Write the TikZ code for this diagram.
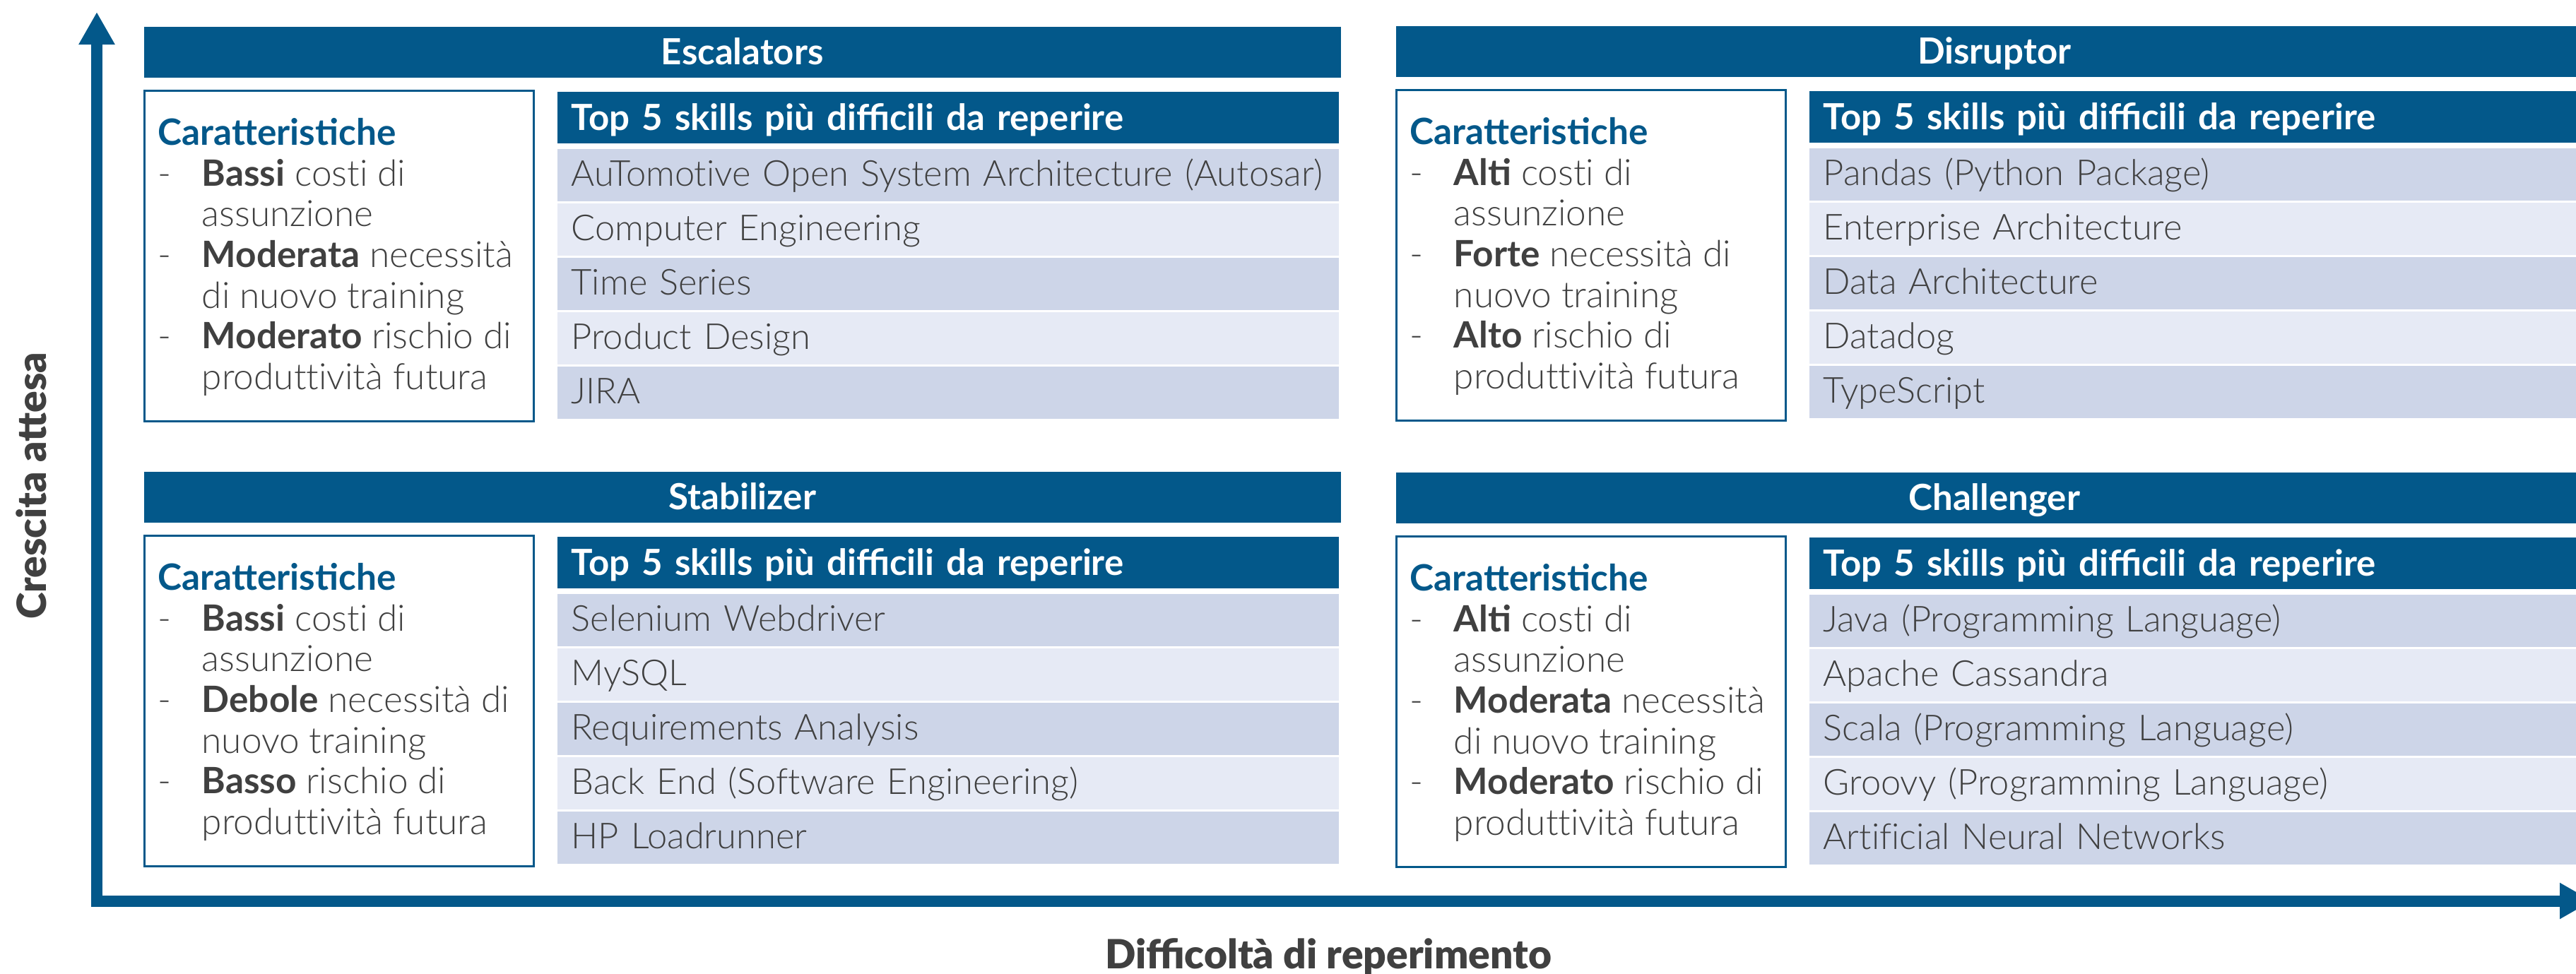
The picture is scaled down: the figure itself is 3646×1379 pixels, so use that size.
\documentclass[tikz,border=0pt]{standalone}
\usepackage{fontspec}
\setmainfont{Lato}[UprightFont=* Light, BoldFont=* Bold, UprightFeatures={Ligatures=NoCommon}]
\newfontfamily\axisfont{Lato}[UprightFont=* Black]
\usepackage{xcolor}
\usetikzlibrary{arrows.meta}

\definecolor{quadblue}{RGB}{3,88,138}
\definecolor{rowdark}{RGB}{205,213,232}
\definecolor{rowlight}{RGB}{230,234,245}
\definecolor{textgray}{RGB}{64,64,64}

\begin{document}
\begin{tikzpicture}[x=0.01cm, y=-0.01cm,
    quadhead/.style={fill=quadblue, text=white, anchor=north west, minimum width=16.93cm, minimum height=0.72cm, inner sep=0pt, font=\fontsize{14.5}{17}\selectfont\bfseries, text height=0.42cm, text depth=0.06cm},
    topbar/.style={fill=quadblue, text=white, anchor=north west, text width=10.66cm, inner xsep=0.2cm, inner ysep=0pt, minimum height=0.73cm, font=\fontsize{14.5}{17}\selectfont\bfseries, text height=0.42cm, text depth=0.05cm},
    skillrow/.style={anchor=north west, text width=10.66cm, inner xsep=0.2cm, inner ysep=0pt, minimum height=0.74cm, text=textgray, font=\fontsize{14.4}{16}\selectfont, text height=0.4cm, text depth=0.08cm},
    charbox/.style={draw=quadblue, line width=0.85pt, fill=white, anchor=north west, minimum width=5.51cm, minimum height=4.68cm, inner sep=0pt},
    chartext/.style={anchor=north west, inner sep=0pt, align=left, text=textgray, font=\fontsize{14.6}{16.36}\selectfont},
    axislabel/.style={text=textgray, inner sep=0pt, font=\axisfont\fontsize{16.2}{20}\selectfont},
    axis/.style={draw=quadblue, line width=0.16cm, {Triangle[length=0.46cm,width=0.48cm]}-{Triangle[length=0.46cm,width=0.48cm]}}
  ]
  \useasboundingbox (0,0) rectangle (3646,1379);
  \clip (0,0) rectangle (3646,1379);

  % axes
  \coordinate (ytip) at (137,17);
  \coordinate (origin) at (137,1275.5);
  \coordinate (xtip) at (3669,1275.5);
  \draw[axis] (ytip) -- (origin) -- (xtip);
  \node[axislabel, rotate=90, anchor=base] (ylabel) at (65,688) {Crescita attesa};
  \node[axislabel, anchor=base] (xlabel) at (1880,1371) {Difficoltà di reperimento};

  % Escalators
  \node[quadhead] (esc-head) at (203,37) {Escalators};
  \node[charbox] (esc-char) at (203,127) {};
  \node[chartext] (esc-text) at (223,167) {{\color{quadblue}\bfseries Caratteristiche}\\
    \makebox[0.62cm][l]{-}\textbf{Bassi} costi di\\
    \hspace*{0.62cm}assunzione\\
    \makebox[0.62cm][l]{-}\textbf{Moderata} necessità\\
    \hspace*{0.62cm}di nuovo training\\
    \makebox[0.62cm][l]{-}\textbf{Moderato} rischio di\\
    \hspace*{0.62cm}produttività futura};
  \node[topbar] (esc-top) at (788,129) {Top 5 skills più difficili da reperire};
  \foreach \s [count=\i] in {{AuTomotive Open System Architecture (Autosar)}, {Computer Engineering}, {Time Series}, {Product Design}, {JIRA}} {
    \ifodd\i\def\rc{rowdark}\else\def\rc{rowlight}\fi
    \node[skillrow, fill=\rc] (esc-r\i) at (788,{210+77*(\i-1)}) {\s};
  }

  % Disruptor
  \node[quadhead] (dis-head) at (1975,36) {Disruptor};
  \node[charbox] (dis-char) at (1975,126) {};
  \node[chartext] (dis-text) at (1995,166) {{\color{quadblue}\bfseries Caratteristiche}\\
    \makebox[0.62cm][l]{-}\textbf{Alti} costi di\\
    \hspace*{0.62cm}assunzione\\
    \makebox[0.62cm][l]{-}\textbf{Forte} necessità di\\
    \hspace*{0.62cm}nuovo training\\
    \makebox[0.62cm][l]{-}\textbf{Alto} rischio di\\
    \hspace*{0.62cm}produttività futura};
  \node[topbar] (dis-top) at (2560,128) {Top 5 skills più difficili da reperire};
  \foreach \s [count=\i] in {{Pandas (Python Package)}, {Enterprise Architecture}, {Data Architecture}, {Datadog}, {TypeScript}} {
    \ifodd\i\def\rc{rowdark}\else\def\rc{rowlight}\fi
    \node[skillrow, fill=\rc] (dis-r\i) at (2560,{209+77*(\i-1)}) {\s};
  }

  % Stabilizer
  \node[quadhead] (sta-head) at (203,667) {Stabilizer};
  \node[charbox] (sta-char) at (203,757) {};
  \node[chartext] (sta-text) at (223,797) {{\color{quadblue}\bfseries Caratteristiche}\\
    \makebox[0.62cm][l]{-}\textbf{Bassi} costi di\\
    \hspace*{0.62cm}assunzione\\
    \makebox[0.62cm][l]{-}\textbf{Debole} necessità di\\
    \hspace*{0.62cm}nuovo training\\
    \makebox[0.62cm][l]{-}\textbf{Basso} rischio di\\
    \hspace*{0.62cm}produttività futura};
  \node[topbar] (sta-top) at (788,759) {Top 5 skills più difficili da reperire};
  \foreach \s [count=\i] in {{Selenium Webdriver}, {MySQL}, {Requirements Analysis}, {Back End (Software Engineering)}, {HP Loadrunner}} {
    \ifodd\i\def\rc{rowdark}\else\def\rc{rowlight}\fi
    \node[skillrow, fill=\rc] (sta-r\i) at (788,{840+77*(\i-1)}) {\s};
  }

  % Challenger
  \node[quadhead] (cha-head) at (1975,668) {Challenger};
  \node[charbox] (cha-char) at (1975,758) {};
  \node[chartext] (cha-text) at (1995,798) {{\color{quadblue}\bfseries Caratteristiche}\\
    \makebox[0.62cm][l]{-}\textbf{Alti} costi di\\
    \hspace*{0.62cm}assunzione\\
    \makebox[0.62cm][l]{-}\textbf{Moderata} necessità\\
    \hspace*{0.62cm}di nuovo training\\
    \makebox[0.62cm][l]{-}\textbf{Moderato} rischio di\\
    \hspace*{0.62cm}produttività futura};
  \node[topbar] (cha-top) at (2560,760) {Top 5 skills più difficili da reperire};
  \foreach \s [count=\i] in {{Java (Programming Language)}, {Apache Cassandra}, {Scala (Programming Language)}, {Groovy (Programming Language)}, {Artificial Neural Networks}} {
    \ifodd\i\def\rc{rowdark}\else\def\rc{rowlight}\fi
    \node[skillrow, fill=\rc] (cha-r\i) at (2560,{841+77*(\i-1)}) {\s};
  }
\end{tikzpicture}
\end{document}
